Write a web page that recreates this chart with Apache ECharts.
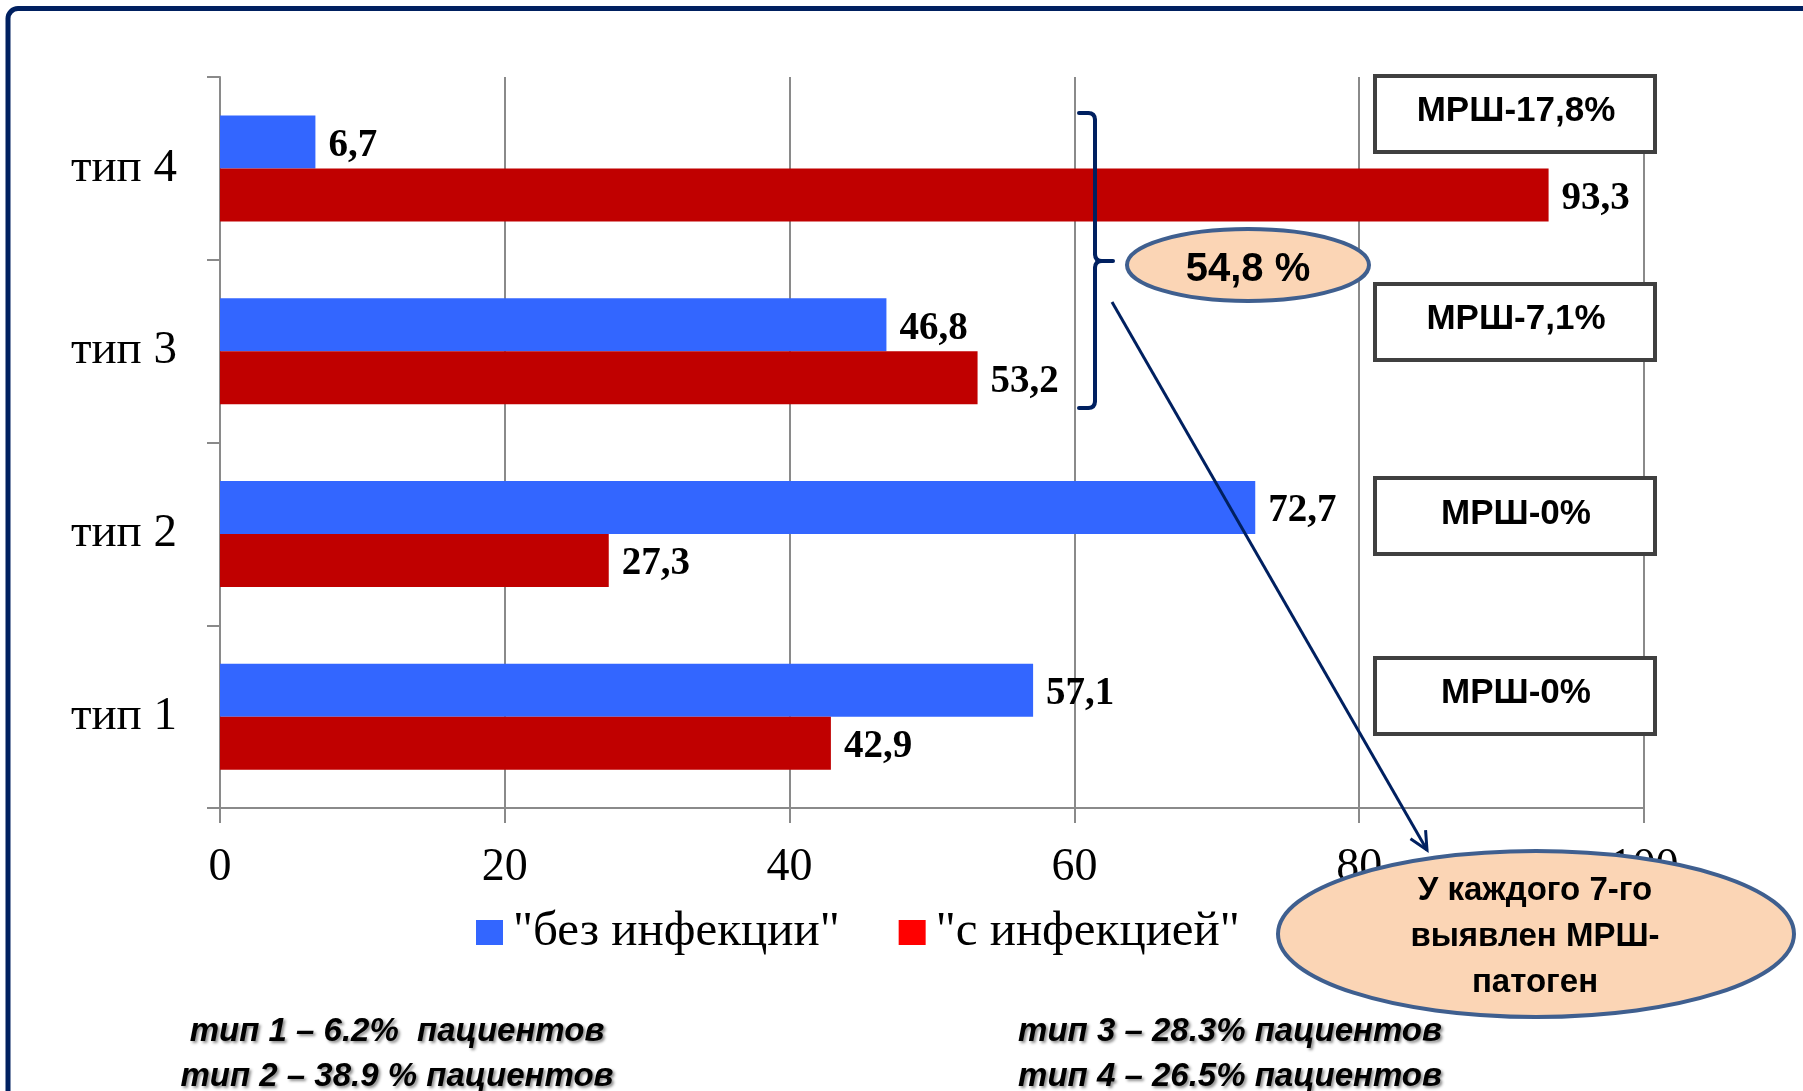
<!DOCTYPE html>
<html>
<head>
<meta charset="utf-8">
<title>Типы — с инфекцией и без</title>
<script src="https://cdn.jsdelivr.net/npm/echarts@6/dist/echarts.min.js"></script>
<style>
  html, body { margin: 0; padding: 0; background: #ffffff; }
  #chart { width: 1803px; height: 1091px; }
</style>
</head>
<body>
<div id="chart"></div>
<script>
// Categories, bottom to top along the vertical axis
const categories = ['тип 1', 'тип 2', 'тип 3', 'тип 4'];
// Share of patients, %
const withoutInfection = [57.1, 72.7, 46.8, 6.7];
const withInfection = [42.9, 27.3, 53.2, 93.3];
const seriesNames = ['"без инфекции"', '"с инфекцией"'];
// Value axis ticks
const xMin = 0, xMax = 100, xStep = 20;
// MRSH share boxes, from top (тип 4) to bottom (тип 1)
const mrshLabels = ['МРШ-17,8%', 'МРШ-7,1%', 'МРШ-0%', 'МРШ-0%'];
const bracketLabel = '54,8 %';
const calloutLines = ['У каждого 7-го', 'выявлен МРШ-', 'патоген'];
const footerLeft = ['тип 1 – 6.2%  пациентов', 'тип 2 – 38.9 % пациентов'];
const footerRight = ['тип 3 – 28.3% пациентов', 'тип 4 – 26.5% пациентов'];

const SERIF = "'Liberation Serif', 'Times New Roman', serif";
const SANS = "'Liberation Sans', Arial, sans-serif";
const NAVY = '#002060';
const GRID = '#8a8a8a';

const fmt = v => String(v).replace('.', ',');

const chart = echarts.init(document.getElementById('chart'), null, { renderer: 'canvas' });

// Annotation graphics
const graphics = [];

// slide frame
graphics.push({
  type: 'rect', z: 1,
  shape: { x: 8, y: 8.5, width: 1830, height: 1120, r: 10 },
  style: { fill: 'none', stroke: NAVY, lineWidth: 5 }
});

// MRSH boxes
const boxTops = [76, 284, 478, 658];
const boxTextY = [111, 319, 514, 693];
mrshLabels.forEach((t, i) => {
  graphics.push({
    type: 'rect', z: 100,
    shape: { x: 1375, y: boxTops[i], width: 280, height: 76 },
    style: { fill: '#ffffff', stroke: '#404040', lineWidth: 4 }
  });
  graphics.push({
    type: 'text', z: 101, x: 1516, y: boxTextY[i],
    style: { text: t, font: 'bold 35px ' + SANS, fill: '#000000', align: 'center', verticalAlign: 'middle' }
  });
});

// curly bracket grouping тип 3 and тип 4
const bracketStyle = { fill: 'none', stroke: NAVY, lineWidth: 4, lineCap: 'round' };
[
  [1079, 113, 1088, 113], [1095, 120, 1095, 254], [1102, 261, 1113, 261],
  [1095, 268, 1095, 401], [1088, 408, 1079, 408]
].forEach(s => graphics.push({
  type: 'line', z: 100, shape: { x1: s[0], y1: s[1], x2: s[2], y2: s[3] }, style: bracketStyle
}));
[
  [1088, 113, 1095, 113, 1095, 120], [1095, 254, 1095, 261, 1102, 261],
  [1102, 261, 1095, 261, 1095, 268], [1095, 401, 1095, 408, 1088, 408]
].forEach(c => graphics.push({
  type: 'bezierCurve', z: 100,
  shape: { x1: c[0], y1: c[1], cpx1: c[2], cpy1: c[3], x2: c[4], y2: c[5] },
  style: bracketStyle
}));

// small oval with the grouped share
graphics.push({
  type: 'ellipse', z: 100,
  shape: { cx: 1248, cy: 265, rx: 121, ry: 36 },
  style: { fill: '#fbd5b5', stroke: '#3f5f8f', lineWidth: 4 }
});
graphics.push({
  type: 'text', z: 101, x: 1248, y: 270,
  style: { text: bracketLabel, font: 'bold 40px ' + SANS, fill: '#000000', align: 'center', verticalAlign: 'middle' }
});

// pointer arrow towards the callout
(function () {
  const x1 = 1112, y1 = 302, x2 = 1427, y2 = 850;
  const a = Math.atan2(y2 - y1, x2 - x1);
  const L = 20, w = 0.45;
  const p1 = [x2 - L * Math.cos(a - w), y2 - L * Math.sin(a - w)];
  const p2 = [x2 - L * Math.cos(a + w), y2 - L * Math.sin(a + w)];
  graphics.push({
    type: 'line', z: 100,
    shape: { x1: x1, y1: y1, x2: x2, y2: y2 },
    style: { stroke: NAVY, lineWidth: 3 }
  });
  graphics.push({
    type: 'polyline', z: 100,
    shape: { points: [p1, [x2, y2], p2] },
    style: { fill: 'none', stroke: NAVY, lineWidth: 3 }
  });
})();

// big callout oval
graphics.push({
  type: 'ellipse', z: 110,
  shape: { cx: 1536, cy: 934, rx: 258, ry: 83 },
  style: { fill: '#fbd5b5', stroke: '#3f5f8f', lineWidth: 4 }
});
calloutLines.forEach((t, i) => {
  graphics.push({
    type: 'text', z: 111, x: 1535, y: 891 + i * 46,
    style: { text: t, font: 'bold 33px ' + SANS, fill: '#000000', align: 'center', verticalAlign: 'middle' }
  });
});

// footer notes
function footer(lines, cx) {
  lines.forEach((t, i) => {
    graphics.push({
      type: 'text', z: 100, x: cx, y: 1032 + i * 45,
      style: {
        text: t, font: 'italic bold 33px ' + SANS, fill: '#000000',
        align: 'center', verticalAlign: 'middle',
        textShadowColor: 'rgba(0,0,0,0.45)', textShadowBlur: 3,
        textShadowOffsetX: 2, textShadowOffsetY: 2
      }
    });
  });
}
footer(footerLeft, 397);
footer(footerRight, 1230);

const valueLabel = {
  show: true, position: 'right', distance: 13, offset: [0, 4],
  fontFamily: SERIF, fontWeight: 'bold', fontSize: 39, color: '#000000',
  formatter: p => fmt(p.value)
};

const option = {
  animation: false,
  backgroundColor: '#ffffff',
  grid: { left: 220, right: 159, top: 77, bottom: 283, containLabel: false },
  legend: {
    left: 476, top: 908, padding: 0,
    itemWidth: 27, itemHeight: 25, itemGap: 59,
    icon: 'rect',
    textStyle: { fontFamily: SERIF, fontSize: 49, color: '#000000', padding: [8, 0, 0, 5] },
    data: [
      { name: seriesNames[0], itemStyle: { color: '#3366ff' } },
      { name: seriesNames[1], itemStyle: { color: '#ff0000' } }
    ]
  },
  xAxis: {
    type: 'value', min: xMin, max: xMax, interval: xStep,
    axisLine: { show: true, lineStyle: { color: GRID, width: 2 } },
    axisTick: { show: true, length: 15, lineStyle: { color: GRID, width: 2 } },
    splitLine: { show: true, lineStyle: { color: GRID, width: 2 } },
    axisLabel: { fontFamily: SERIF, fontSize: 46, color: '#000000', margin: 37 }
  },
  yAxis: {
    type: 'category', data: categories,
    axisLine: { show: true, lineStyle: { color: GRID, width: 2 } },
    axisTick: { show: true, length: 13, lineStyle: { color: GRID, width: 2 } },
    axisLabel: { fontFamily: SERIF, fontSize: 47, color: '#000000', margin: 43, padding: [4, 0, 0, 0] }
  },
  series: [
    {
      name: seriesNames[0], type: 'bar', data: withoutInfection,
      barWidth: 53, barGap: '0%',
      itemStyle: { color: '#3366ff' },
      label: valueLabel
    },
    {
      name: seriesNames[1], type: 'bar', data: withInfection,
      barWidth: 53, barGap: '0%',
      itemStyle: { color: '#c00000' },
      label: valueLabel
    }
  ],
  graphic: { elements: graphics }
};

chart.setOption(option);
</script>
</body>
</html>
